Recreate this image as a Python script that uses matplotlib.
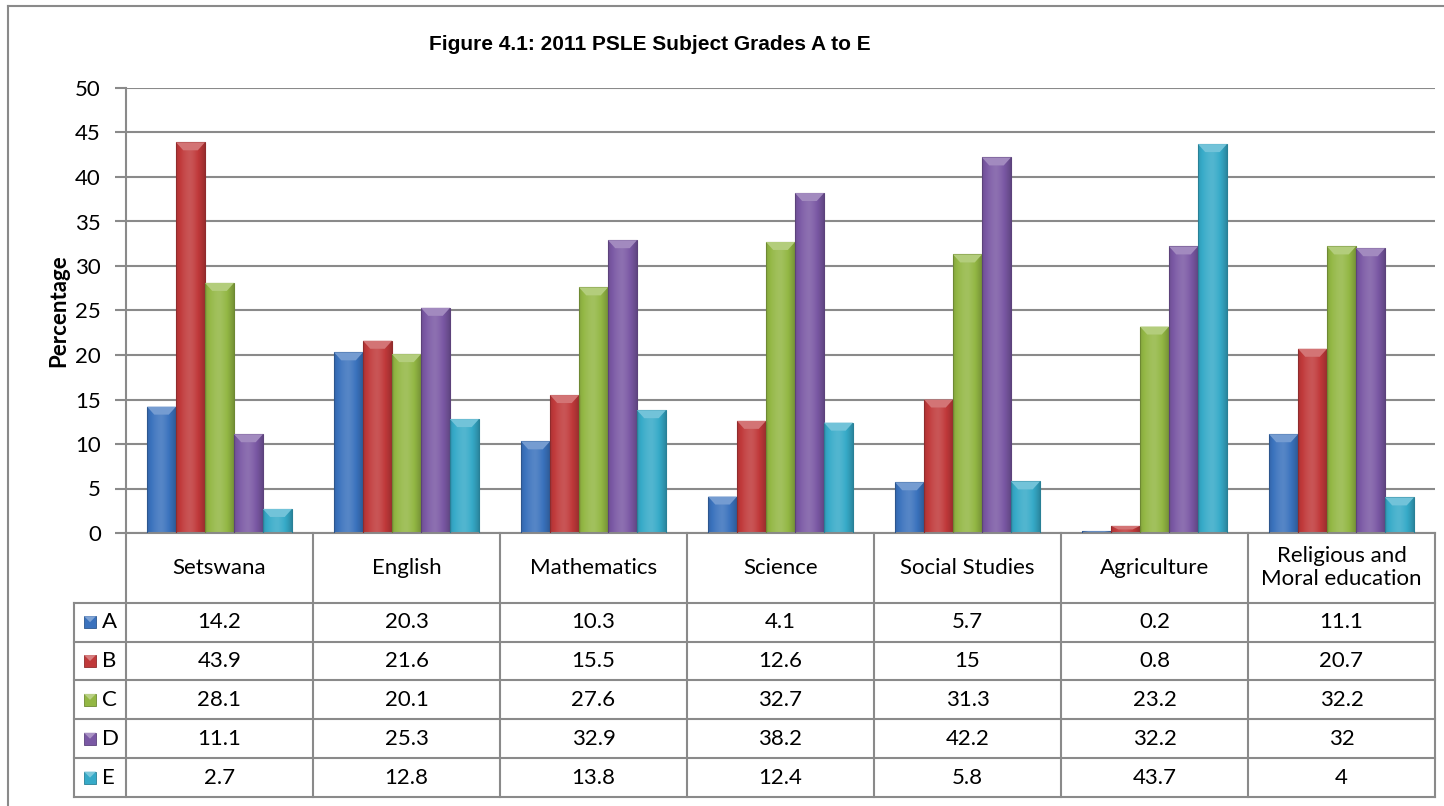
import numpy as np
import matplotlib
matplotlib.use("Agg")
import matplotlib.pyplot as plt
from matplotlib.patches import Rectangle, Polygon
from matplotlib.lines import Line2D
from matplotlib import colors as mcolors

plt.rcParams['font.family'] = ['Lato', 'DejaVu Sans']

# data
subjects = ["Setswana", "English", "Mathematics", "Science", "Social Studies",
            "Agriculture", "Religious and\nMoral education"]
grades = ["A", "B", "C", "D", "E"]
grade_a = [14.2, 20.3, 10.3, 4.1, 5.7, 0.2, 11.1]
grade_b = [43.9, 21.6, 15.5, 12.6, 15, 0.8, 20.7]
grade_c = [28.1, 20.1, 27.6, 32.7, 31.3, 23.2, 32.2]
grade_d = [11.1, 25.3, 32.9, 38.2, 42.2, 32.2, 32]
grade_e = [2.7, 12.8, 13.8, 12.4, 5.8, 43.7, 4]
series = [grade_a, grade_b, grade_c, grade_d, grade_e]
bar_colors = ["#3a72bd", "#c0393a", "#93b744", "#7a58a4", "#36aac8"]

GRID = "#8a8a8a"
FS = 16
W, H = 1444, 806
fig = plt.figure(figsize=(W / 100, H / 100), dpi=100)

# outer chart frame (left and top visible)
fig.add_artist(Line2D([8 / W, 8 / W], [0, 1 - 6 / H], color=GRID, lw=1.5))
fig.add_artist(Line2D([8 / W, 1], [1 - 6 / H, 1 - 6 / H], color=GRID, lw=1.5))

left_px, right_px, top_px, zero_px, tbl_bot = 126, 1435, 88, 533, 797
ax = fig.add_axes([left_px / W, 1 - zero_px / H, (right_px - left_px) / W,
                   (zero_px - top_px) / H])

n = len(subjects)
x = np.arange(n)
bw = 0.155


def shade(c, f):
    r = np.array(mcolors.to_rgb(c))
    if f >= 1:
        return tuple(r + (1 - r) * (f - 1))
    return tuple(r * f)


prof = np.linspace(-1, 1, 30)
for i, (vals, col) in enumerate(zip(series, bar_colors)):
    bars = ax.bar(x + (i - 2) * bw, vals, bw, color="none",
                  edgecolor=shade(col, 0.75), linewidth=0.8, zorder=3)
    img = np.array([[shade(col, 1.14 - 0.28 * abs(p) ** 1.5 - 0.05 * p) for p in prof]])
    for b in bars:
        x0, h, w = b.get_x(), b.get_height(), b.get_width()
        if h <= 0:
            continue
        im = ax.imshow(img, extent=(x0, x0 + w, 0, h), aspect="auto",
                       interpolation="bilinear", zorder=2)
        im.set_clip_path(b)
        dy = min(0.9, h * 0.5)
        ax.add_patch(Polygon([(x0, h), (x0 + w, h), (x0 + w * 0.75, h - dy),
                              (x0 + w * 0.25, h - dy)], closed=True,
                             facecolor=shade(col, 1.3), edgecolor="none", zorder=4))

ax.set_xlim(-0.5, n - 0.5)
ax.set_ylim(0, 50)
ax.set_yticks(np.arange(0, 51, 5))
ax.set_xticks([])
ax.yaxis.grid(True, color=GRID, lw=1.5)
ax.set_axisbelow(True)
for s in ["top", "right"]:
    ax.spines[s].set_visible(False)
for s in ["left", "bottom"]:
    ax.spines[s].set_color(GRID)
    ax.spines[s].set_linewidth(1.5)
ax.tick_params(axis="y", length=8, width=1.5, color=GRID, labelsize=FS, pad=10)
ax.set_ylabel("Percentage", fontsize=FS, fontweight="bold", labelpad=4)

fig.text(0.45, 1 - 45 / H, "Figure 4.1: 2011 PSLE Subject Grades A to E",
         ha="center", va="center", fontsize=15, fontweight="bold",
         family="Liberation Sans")

# data table below the plot
px_per_unit = (right_px - left_px) / n
tbl_left = 74
tx0 = -0.5 - (left_px - tbl_left) / px_per_unit
tax = fig.add_axes([tbl_left / W, 1 - tbl_bot / H, (right_px - tbl_left) / W,
                    (tbl_bot - zero_px) / H])
header_h, row_h = 70, 39
total_h = header_h + row_h * len(grades)
tax.set_xlim(tx0, n - 0.5)
tax.set_ylim(total_h, 0)
tax.axis("off")

lk = dict(color=GRID, lw=1.5, clip_on=False)
for k in range(n + 1):
    tax.plot([k - 0.5, k - 0.5], [0, total_h], **lk)
tax.plot([tx0, tx0], [header_h, total_h], **lk)
for r in range(len(grades) + 1):
    yy = header_h + r * row_h
    tax.plot([tx0, n - 0.5], [yy, yy], **lk)

for k, name in enumerate(subjects):
    tax.text(k, header_h / 2, name, ha="center", va="center", fontsize=FS,
             linespacing=1.2)
    for r, vals in enumerate(series):
        tax.text(k, header_h + (r + 0.5) * row_h, f"{vals[k]:g}",
                 ha="center", va="center", fontsize=FS)

key = 12 / px_per_unit
for r, (g, col) in enumerate(zip(grades, bar_colors)):
    yc = header_h + (r + 0.5) * row_h
    kx = tx0 + 10 / px_per_unit
    tax.add_patch(Rectangle((kx, yc - 6), key, 12, facecolor=col,
                            edgecolor=shade(col, 0.75), lw=0.6))
    tax.add_patch(Polygon([(kx, yc - 6), (kx + key, yc - 6), (kx + key / 2, yc)],
                          closed=True, facecolor=shade(col, 1.35), edgecolor="none"))
    tax.text(tx0 + 28 / px_per_unit, yc, g, ha="left", va="center", fontsize=FS)

fig.savefig("out.png", dpi=100)
